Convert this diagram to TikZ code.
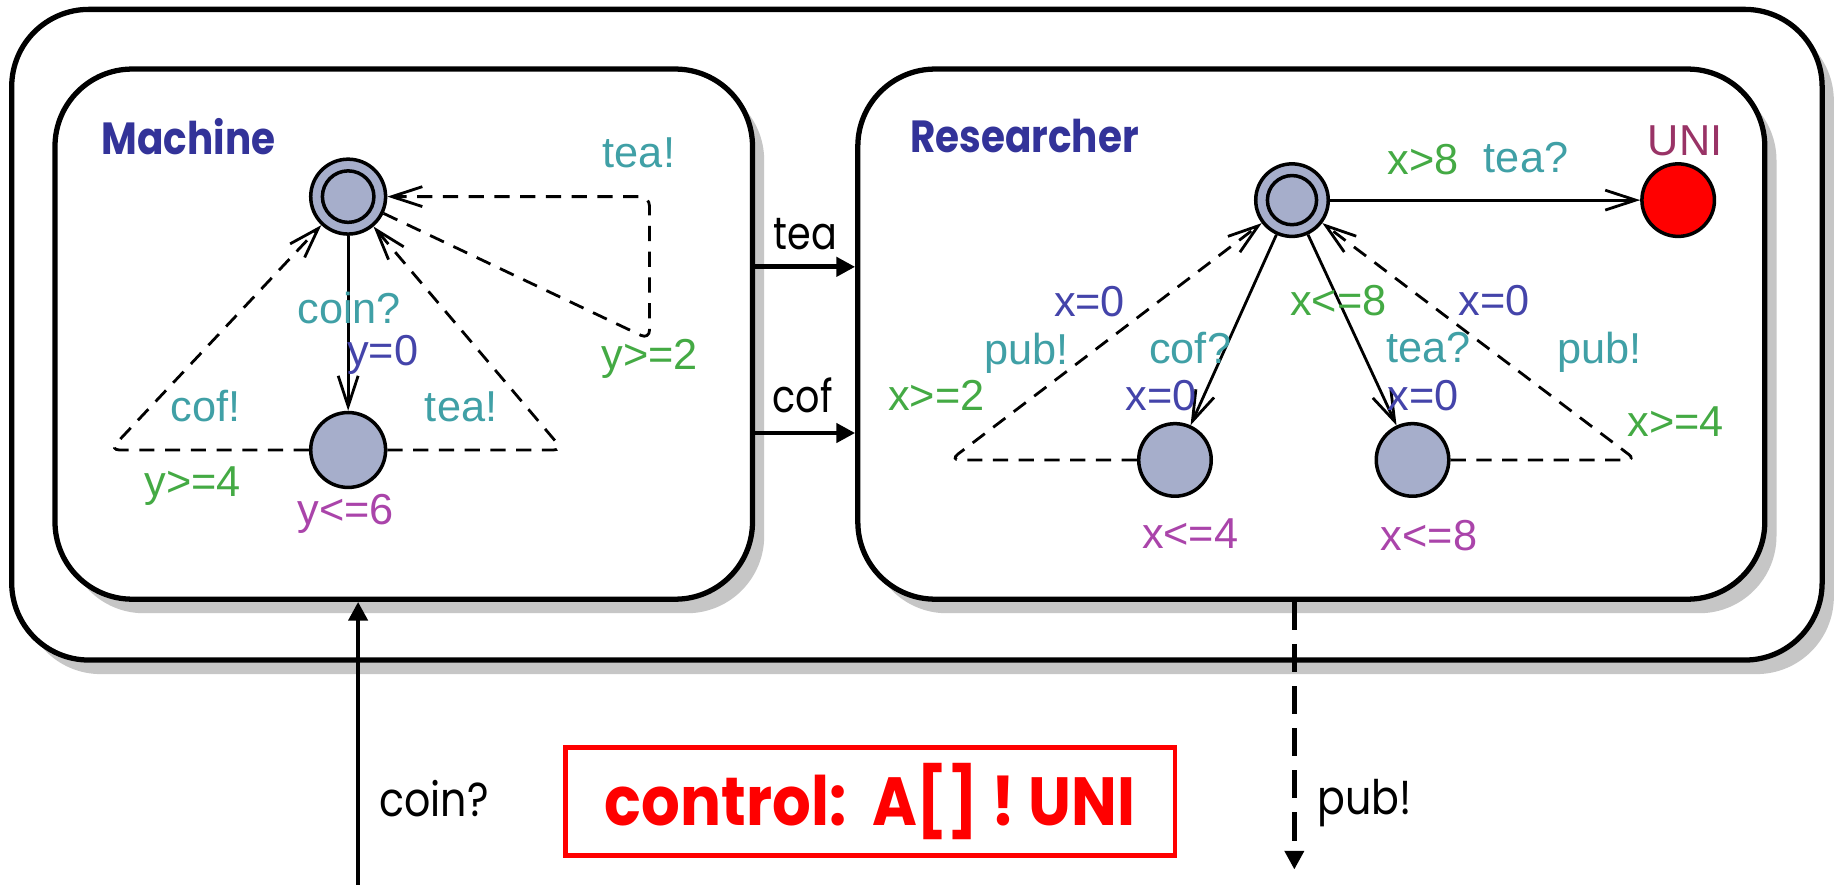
\documentclass[tikz,border=0pt]{standalone}
\usepackage{fontspec}
\setmainfont{Liberation Sans}
\newfontfamily\comic{Poppins}
\usetikzlibrary{arrows.meta,shadows}

\definecolor{statefill}{RGB}{166,174,203}
\definecolor{titleblue}{RGB}{51,51,153}
\definecolor{synccol}{RGB}{64,160,166}
\definecolor{assigncol}{RGB}{68,68,170}
\definecolor{guardcol}{RGB}{68,170,68}
\definecolor{invcol}{RGB}{170,68,170}
\definecolor{namecol}{RGB}{153,51,102}
\definecolor{shadowgray}{RGB}{198,198,198}

\begin{document}
\begin{tikzpicture}[x=1pt,y=-1pt,
  panel/.style={draw, line width=4.5pt, rounded corners=66pt, fill=white, inner sep=0pt,
    drop shadow={shadow xshift=10pt, shadow yshift=-12pt, fill=shadowgray, opacity=1}},
  loc/.style={circle, draw, line width=3pt, fill=statefill, inner sep=0pt, minimum size=62pt},
  trans/.style={line width=2.4pt, -{Straight Barb[length=26pt, width=17pt]}},
  dtrans/.style={trans, dash pattern=on 13pt off 9pt, rounded corners=8pt},
  chan/.style={line width=4pt, -{Triangle[length=16pt, width=16pt]}},
  lbl/.style={inner sep=0pt, font=\fontsize{37}{42}\selectfont},
  synclbl/.style={lbl, text=synccol},
  assignlbl/.style={lbl, text=assigncol},
  guardlbl/.style={lbl, text=guardcol},
  invlbl/.style={lbl, text=invcol},
  title/.style={inner sep=0pt, text=titleblue, font=\comic\bfseries\fontsize{35}{40}\selectfont},
  plain/.style={inner sep=0pt, font=\comic\fontsize{37}{44}\selectfont}
]
\useasboundingbox (0,0) rectangle (1568,756);

% system and the two automata
\node[panel, minimum width=1547pt, minimum height=556pt] (system) at (783.5,286) {};
\node[panel, minimum width=596pt, minimum height=453pt] (machine) at (345,285.5) {};
\node[panel, minimum width=775pt, minimum height=453pt] (researcher) at (1120.5,285.5) {};

\node[title] (mtitle) at (161,116.5) {\scalebox{0.95}[1.1]{Machine}};
\node[title] (rtitle) at (875.5,116.5) {\scalebox{0.95}[1.1]{Researcher}};

% ---- Machine ----
\node[loc, minimum size=64pt] (m0) at (297.5,168) {};
\draw[line width=3pt] (m0.center) circle (22pt);
\node[loc, minimum size=64pt] (m1) at (297.5,384.5) {};
\coordinate (mcL) at (94,384.5);
\coordinate (mcR) at (481,384.5);
\coordinate (mlB) at (555,290);
\coordinate (mlT) at (555,168);

\draw[trans] (m0) -- (m1);
\draw[dtrans] (m1) -- (mcL) -- (m0);
\draw[dtrans] (m1) -- (mcR) -- (m0);
\draw[dtrans] (m0) -- (mlB) -- (mlT) -- (m0);

\node[synclbl] (l1) at (298.5,263) {coin?};
\node[assignlbl] (l2) at (327,303) {y=0};
\node[synclbl] (l3) at (175.5,347) {cof!};
\node[synclbl] (l4) at (394,348) {tea!};
\node[synclbl] (l5) at (546,131) {tea!};
\node[guardlbl] (l6) at (555,307) {y>=2};
\node[guardlbl] (l7) at (164.5,415) {y>=4};
\node[invlbl] (l8) at (295.5,439) {y<=6};

% ---- Researcher ----
\node[loc] (r0) at (1104,171) {};
\draw[line width=3pt] (r0.center) circle (21pt);
\node[loc] (r1) at (1004,393) {};
\node[loc] (r2) at (1207,393) {};
\node[loc, fill=red] (uni) at (1434,171) {};
\coordinate (rcL) at (812,393);
\coordinate (rcR) at (1398,393);

\draw[trans] (r0) -- (uni);
\draw[trans] (r0) -- (r1);
\draw[trans] (r0) -- (r2);
\draw[dtrans] (r1) -- (rcL) -- (r0);
\draw[dtrans] (r2) -- (rcR) -- (r0);

\node[lbl, text=namecol] (k1) at (1440,120.5) {UNI};
\node[guardlbl] (k2) at (1216,136) {x>8};
\node[synclbl] (k3) at (1304,135) {tea?};
\node[assignlbl] (k4) at (931,257.5) {x=0};
\node[synclbl] (k5) at (877,302) {pub!};
\node[guardlbl] (k6) at (800,338) {x>=2};
\node[synclbl] (k7) at (1017,297) {cof?};
\node[assignlbl] (k8) at (992,338) {x=0};
\node[guardlbl] (k9) at (1143.5,257) {x<=8};
\node[synclbl] (k10) at (1221,297) {tea?};
\node[assignlbl] (k11) at (1216,338) {x=0};
\node[assignlbl] (k12) at (1277,257) {x=0};
\node[synclbl] (k13) at (1366.5,301) {pub!};
\node[guardlbl] (k14) at (1432,360) {x>=4};
\node[invlbl] (k15) at (1017,456) {x<=4};
\node[invlbl] (k16) at (1221,458) {x<=8};

% ---- channels ----
\coordinate (teaY) at (0,228);
\coordinate (cofY) at (0,370);
\draw[chan] (machine.east |- teaY) -- (researcher.west |- teaY);
\draw[chan] (machine.east |- cofY) -- (researcher.west |- cofY);
\node[plain] (c1) at (688,200) {\scalebox{0.88}[1.05]{tea}};
\node[plain] (c2) at (686,338) {\scalebox{0.88}[1.05]{cof}};

\coordinate (coinfoot) at (306,756);
\draw[chan] (coinfoot) -- (coinfoot |- machine.south);
\node[plain] (c3) at (371,682) {\scalebox{0.95}[1.1]{coin?}};

\coordinate (pubend) at (1106,743);
\draw[chan, dash pattern=on 24pt off 12pt] (pubend |- researcher.south) -- (pubend);
\node[plain] (c4) at (1166,686) {\scalebox{0.95}[1.1]{pub!}};

% ---- query ----
\node[draw=red, line width=4pt, minimum width=521pt, minimum height=92pt, inner sep=0pt,
  text=red, font=\comic\bfseries\fontsize{52}{56}\selectfont] (ctrl) at (743.5,685)
  {\scalebox{1}[1.12]{control:\ \ A[]\ !\ UNI}};
\end{tikzpicture}
\end{document}
